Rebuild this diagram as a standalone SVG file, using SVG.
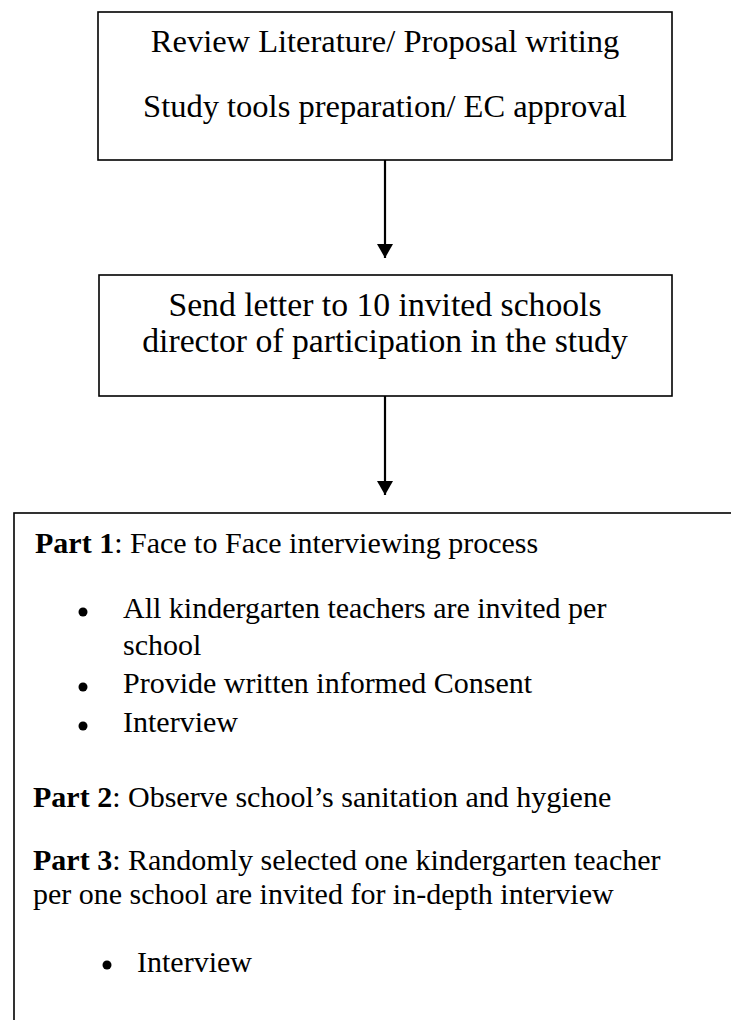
<svg xmlns="http://www.w3.org/2000/svg" width="731" height="1020" viewBox="0 0 731 1020">
<defs>
<style>
.box{fill:#fff;stroke:#000;stroke-width:1.6}
.t{font-family:"Liberation Serif","Times New Roman",serif;fill:#000}
.c{font-size:32.5px;text-anchor:middle}
.c2{font-size:33.7px;text-anchor:middle}
.b{font-size:30px}
.bold{font-weight:bold}
.conn{stroke:#000;stroke-width:2.2;fill:none}
</style>
<marker id="ah" markerWidth="14" markerHeight="16" refX="14" refY="8" orient="auto" markerUnits="userSpaceOnUse">
<path d="M0,0 L14,8 L0,16 Z" fill="#000"/>
</marker>
</defs>
<rect width="731" height="1020" fill="#fff"/>
<g id="connectors">
<line class="conn" x1="385" y1="160" x2="385" y2="258" marker-end="url(#ah)"/>
<line class="conn" x1="385" y1="396" x2="385" y2="495" marker-end="url(#ah)"/>
</g>
<g id="node1">
<rect class="box" x="98" y="12" width="574" height="148"/>
<text class="t c" x="385" y="52">Review Literature/ Proposal writing</text>
<text class="t c" x="385" y="117">Study tools preparation/ EC approval</text>
</g>
<g id="node2">
<rect class="box" x="99" y="275" width="573" height="121"/>
<text class="t c2" x="385" y="316">Send letter to 10 invited schools</text>
<text class="t c2" x="385" y="352">director of participation in the study</text>
</g>
<g id="node3">
<rect class="box" x="14" y="513" width="740" height="530"/>
<text class="t b" x="35" y="553"><tspan class="bold">Part 1</tspan>: Face to Face interviewing process</text>
<circle cx="83" cy="612" r="4.5"/>
<text class="t b" x="123" y="618">All kindergarten teachers are invited per</text>
<text class="t b" x="123" y="655">school</text>
<circle cx="83" cy="687" r="4.5"/>
<text class="t b" x="123" y="693">Provide written informed Consent</text>
<circle cx="83" cy="726" r="4.5"/>
<text class="t b" x="123" y="732">Interview</text>
<text class="t b" x="33" y="807"><tspan class="bold">Part 2</tspan>: Observe school’s sanitation and hygiene</text>
<text class="t b" x="33" y="870"><tspan class="bold">Part 3</tspan>: Randomly selected one kindergarten teacher</text>
<text class="t b" x="33" y="904">per one school are invited for in-depth interview</text>
<circle cx="107" cy="965" r="4.5"/>
<text class="t b" x="137" y="972">Interview</text>
</g>
</svg>
